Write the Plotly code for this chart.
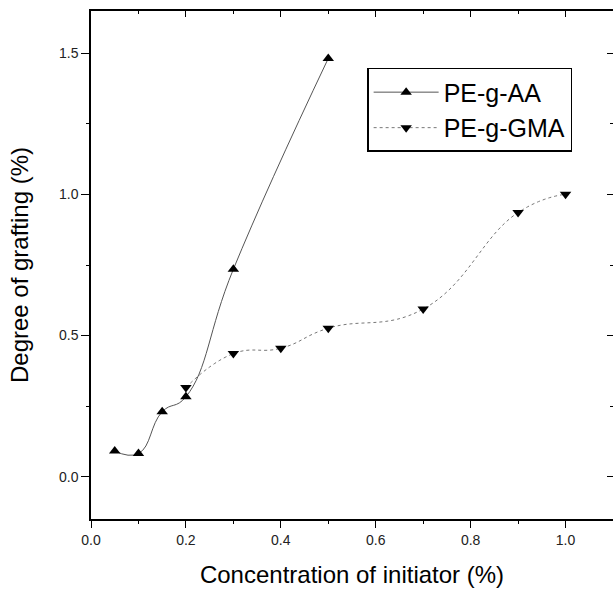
import plotly.graph_objects as go

# Data
aa_x = [0.05, 0.10, 0.15, 0.20, 0.30, 0.50]
aa_y = [0.091, 0.082, 0.230, 0.283, 0.735, 1.482]

gma_x = [0.20, 0.30, 0.40, 0.50, 0.70, 0.90, 1.00]
gma_y = [0.316, 0.436, 0.455, 0.526, 0.594, 0.936, 1.001]

x_ticks = [0.0, 0.2, 0.4, 0.6, 0.8, 1.0]
y_ticks = [0.0, 0.5, 1.0, 1.5]

FONT = "Arial, Liberation Sans, sans-serif"

fig = go.Figure()
fig.add_trace(go.Scatter(
    x=aa_x, y=aa_y, name="PE-g-AA", mode="lines+markers",
    line=dict(color="#555555", width=1, shape="spline", smoothing=1.3),
    marker=dict(symbol="triangle-up", size=10, color="black"),
))
fig.add_trace(go.Scatter(
    x=gma_x, y=gma_y, name="PE-g-GMA", mode="lines+markers",
    line=dict(color="#777777", width=1, dash="dot", shape="spline", smoothing=1.3),
    marker=dict(symbol="triangle-down", size=10, color="black"),
))
# empty trace to anchor the mirrored (top/right) axes
fig.add_trace(go.Scatter(x=[None], y=[None], xaxis="x2", yaxis="y2",
                         showlegend=False, hoverinfo="skip"))

axis_common = dict(showline=True, linecolor="black", linewidth=1.5,
                   showgrid=False, zeroline=False, tickcolor="black",
                   tickwidth=1.2, automargin=False)

fig.update_layout(
    width=613, height=590,
    margin=dict(l=91, r=0, t=11, b=71),
    paper_bgcolor="white", plot_bgcolor="white",
    font=dict(family=FONT, color="black"),
    xaxis=dict(
        range=[0, 1.1], tickvals=x_ticks, tickformat=".1f",
        ticks="outside", ticklen=7,
        minor=dict(dtick=0.1, tick0=0, ticks="outside", ticklen=3, tickcolor="black"),
        tickfont=dict(size=14, family=FONT, color="#222"),
        title=dict(text="Concentration of initiator (%)",
                   font=dict(size=24, family=FONT), standoff=20),
        **axis_common,
    ),
    yaxis=dict(
        range=[-0.15, 1.65], tickvals=y_ticks, tickformat=".1f",
        ticks="outside", ticklen=8,
        minor=dict(dtick=0.25, tick0=0, ticks="outside", ticklen=3, tickcolor="black"),
        tickfont=dict(size=14, family=FONT, color="#222"),
        title=dict(text="Degree of grafting (%)",
                   font=dict(size=24, family=FONT), standoff=24),
        **axis_common,
    ),
    xaxis2=dict(
        overlaying="x", side="top", anchor="y2", range=[0, 1.1],
        tickvals=x_ticks, showticklabels=False, ticks="inside", ticklen=6,
        minor=dict(dtick=0.1, tick0=0, ticks="inside", ticklen=3, tickcolor="black"),
        **axis_common,
    ),
    yaxis2=dict(
        overlaying="y", side="right", anchor="x2", range=[-0.15, 1.65],
        tickvals=y_ticks, showticklabels=False, ticks="inside", ticklen=6,
        minor=dict(dtick=0.25, tick0=0, ticks="inside", ticklen=3, tickcolor="black"),
        **axis_common,
    ),
    legend=dict(
        x=0.529, y=0.888, xanchor="left", yanchor="top",
        bordercolor="black", borderwidth=1.5, bgcolor="white",
        font=dict(size=25, family=FONT), itemwidth=65,
        entrywidth=180, entrywidthmode="pixels",
    ),
    showlegend=True,
)

fig.write_html(
    "out.html",
    config={"displayModeBar": False},
    post_script="document.body.style.margin='0';document.body.style.overflow='hidden';",
)
